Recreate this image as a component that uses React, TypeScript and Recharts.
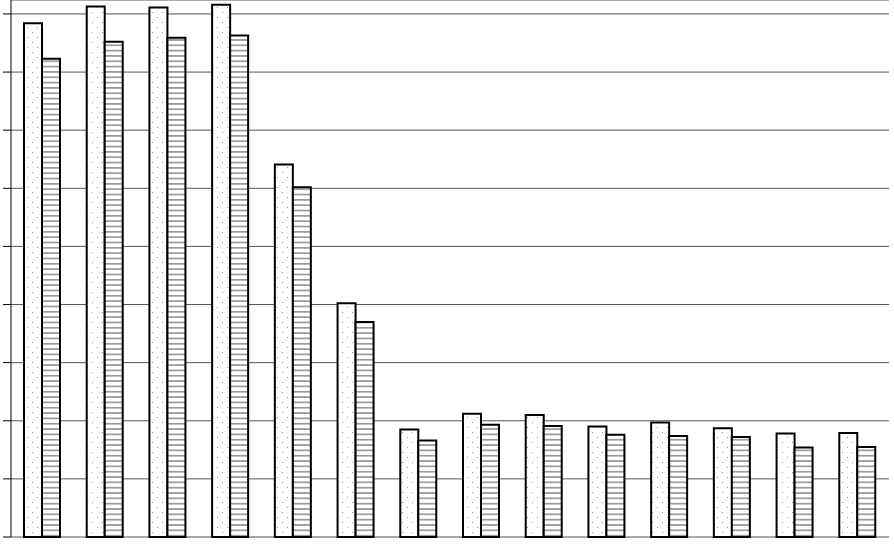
import { BarChart, Bar, XAxis, YAxis, CartesianGrid } from "recharts"

const categories = ["1", "2", "3", "4", "5", "6", "7", "8", "9", "10", "11", "12", "13", "14"]
const seriesA = [884, 913, 911, 916, 641, 402, 185, 212, 210, 190, 197, 187, 178, 179]
const seriesB = [823, 852, 859, 863, 602, 370, 166, 193, 191, 176, 174, 172, 154, 155]
const yTicks = [0, 100, 200, 300, 400, 500, 600, 700, 800, 900]
const boundaryTicks = [0, 1, 2, 3, 4, 5, 6, 7, 8, 9, 10, 11, 12, 13, 14]

const data = categories.map((name, i) => ({ name, a: seriesA[i], b: seriesB[i] }))

const blank = () => ""

export default function App() {
  return (
    <div style={{ position: "absolute", left: 0, top: 0, background: "#fff" }}>
      <BarChart
        width={894}
        height={548}
        data={data}
        margin={{ top: 0, right: 5, bottom: 0, left: 0 }}
        barSize={18}
        barGap={0}
      >
        <defs>
          {/* sparse dot fill, first series */}
          <pattern id="dots" width="10" height="10" patternUnits="userSpaceOnUse">
            <rect width="10" height="10" fill="#fff" />
            <rect x="2" y="2" width="1" height="1" fill="#999" />
            <rect x="7" y="7" width="1" height="1" fill="#999" />
          </pattern>
          {/* horizontal hatch, second series */}
          <pattern id="hlines" width="6" height="5.33" patternUnits="userSpaceOnUse">
            <rect width="6" height="5.33" fill="#fff" />
            <rect x="0" y="2" width="6" height="1.3" fill="#7a7a7a" />
          </pattern>
        </defs>
        <CartesianGrid vertical={false} stroke="#555" strokeOpacity={1} />
        <XAxis dataKey="name" hide />
        <XAxis
          xAxisId="edges"
          type="number"
          domain={[0, 14]}
          ticks={boundaryTicks}
          height={11}
          tickFormatter={blank}
          tickSize={7}
          stroke="#000"
        />
        <YAxis
          domain={[0, 924]}
          ticks={yTicks}
          width={11}
          tickFormatter={blank}
          tickSize={8}
          stroke="#000"
        />
        <Bar dataKey="a" fill="url(#dots)" stroke="#000" strokeWidth={2} isAnimationActive={false} />
        <Bar dataKey="b" fill="url(#hlines)" stroke="#000" strokeWidth={2} isAnimationActive={false} />
      </BarChart>
    </div>
  )
}
